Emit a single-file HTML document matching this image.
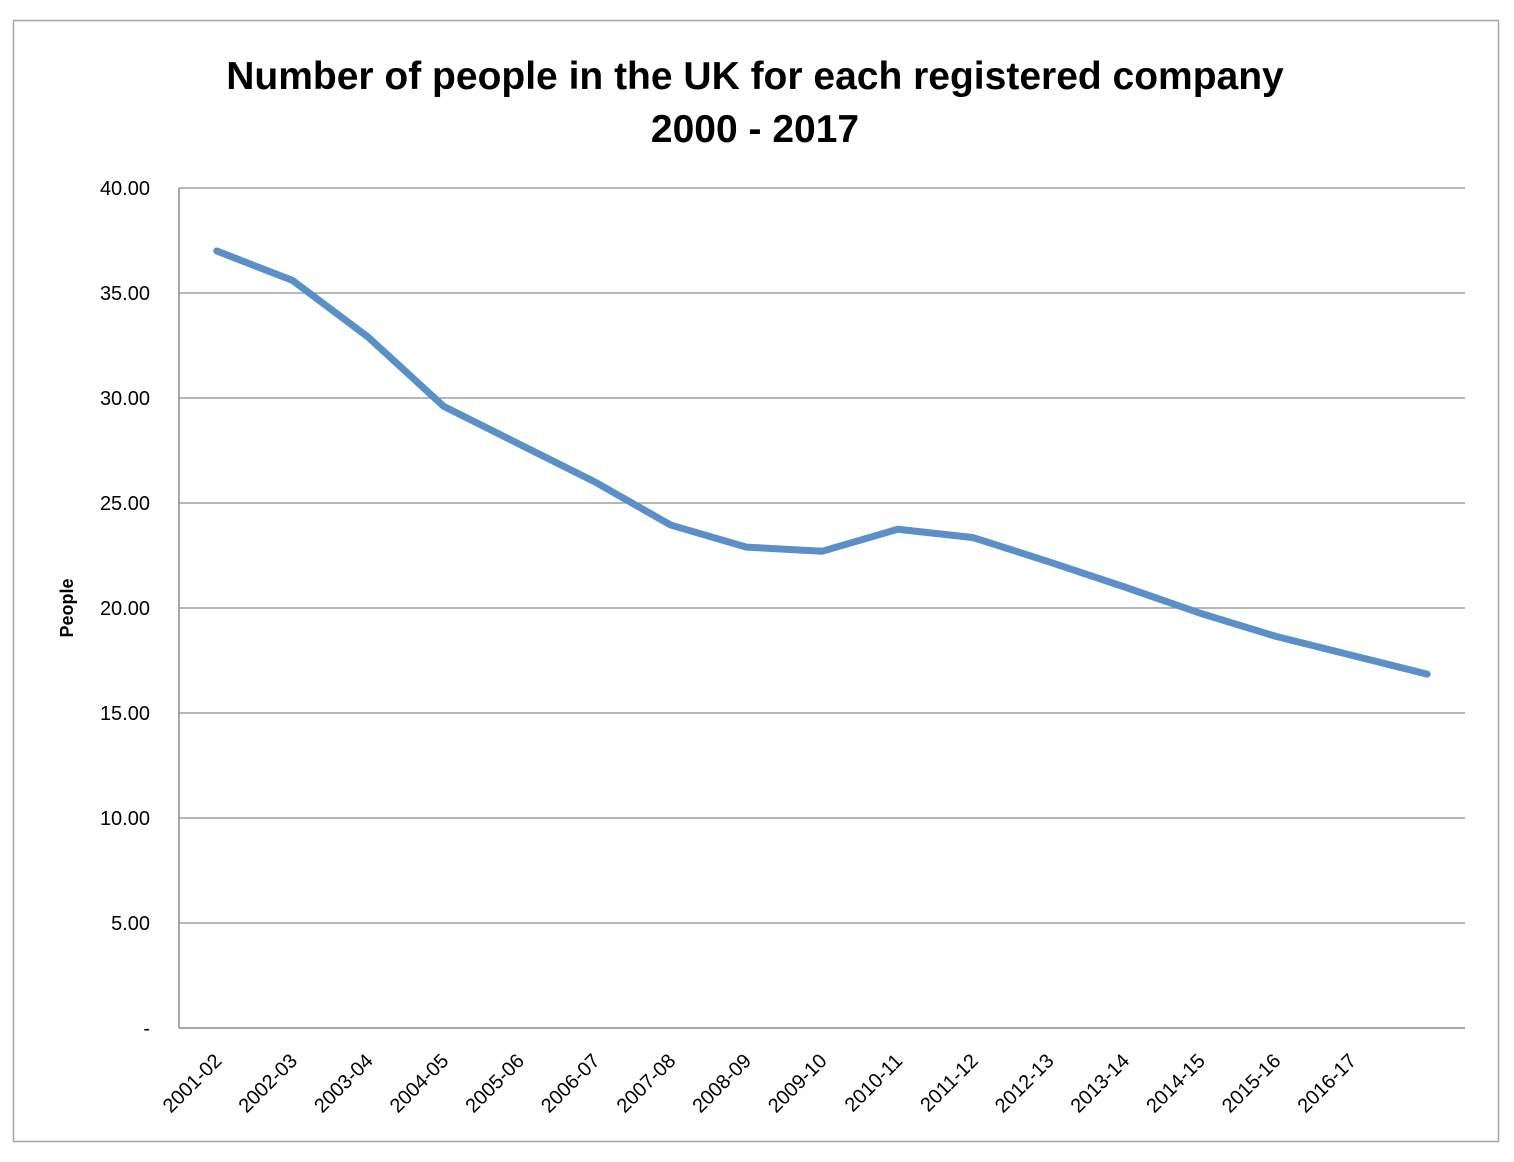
<!DOCTYPE html>
<html><head><meta charset="utf-8"><style>
body{margin:0;background:#fff;}
svg{display:block;font-family:"Liberation Sans",sans-serif;}
</style></head><body>
<svg id="chart" width="1514" height="1162">
<rect x="13.5" y="20.5" width="1485" height="1121" fill="#fff" stroke="#a6a6a6" stroke-width="1.5"/>
<text x="755" y="89" text-anchor="middle" font-size="39" font-weight="bold">Number of people in the UK for each registered company</text>
<text x="755" y="142" text-anchor="middle" font-size="39" font-weight="bold">2000 - 2017</text>
<text transform="translate(73,608) rotate(-90)" text-anchor="middle" font-size="18" font-weight="bold">People</text>
<g id="grid"></g><g id="xaxis"></g><g id="series"></g>
</svg>
<script>
const categories=["2001-02","2002-03","2003-04","2004-05","2005-06","2006-07","2007-08","2008-09","2009-10","2010-11","2011-12","2012-13","2013-14","2014-15","2015-16","2016-17",""];
const values=[37.0,35.6,32.9,29.6,27.8,26.0,23.95,22.9,22.7,23.75,23.35,22.2,21.0,19.75,18.65,17.75,16.85];
const yTicks=[0,5,10,15,20,25,30,35,40];
const yTickLabels=["-","5.00","10.00","15.00","20.00","25.00","30.00","35.00","40.00"];
const NS="http://www.w3.org/2000/svg";
const L=179,R=1465,T=188,B=1028,yMax=40;
const step=(R-L)/categories.length;
const xs=i=>L+step*(i+0.5);
const ys=v=>B-(v/yMax)*(B-T);
function mk(tag,attrs,parent){const e=document.createElementNS(NS,tag);for(const k in attrs)e.setAttribute(k,attrs[k]);parent.appendChild(e);return e;}
const grid=document.getElementById('grid');
yTicks.forEach((t,i)=>{
  if(t>0){const g=mk('line',{x1:L,x2:R,y1:ys(t),y2:ys(t),stroke:'#8c8c8c','stroke-width':1.2},grid);
  
  }
  const tx=mk('text',{x:150,y:ys(t)+7,'text-anchor':'end','font-size':20},grid);
  tx.textContent=yTickLabels[i];
  
  
});
const xa=document.getElementById('xaxis');
const ax=mk('line',{x1:L,x2:R,y1:B,y2:B,stroke:'#8c8c8c','stroke-width':1.5},xa);


const ay=mk('line',{x1:L,x2:L,y1:T,y2:B,stroke:'#8c8c8c','stroke-width':1.5},xa);


categories.forEach((c,i)=>{
  if(!c)return;
  const x=xs(i)+6,y=B+34;
  const t=mk('text',{x:x,y:y,'text-anchor':'end','font-size':20,transform:`rotate(-45 ${x} ${y})`},xa);
  t.textContent=c;
  
  
});
const s=document.getElementById('series');
const p=mk('polyline',{points:values.map((v,i)=>xs(i)+','+ys(v)).join(' '),fill:'none',stroke:'#5b8fc7','stroke-width':7,'stroke-linejoin':'round','stroke-linecap':'round'},s);


</script>
</body></html>
